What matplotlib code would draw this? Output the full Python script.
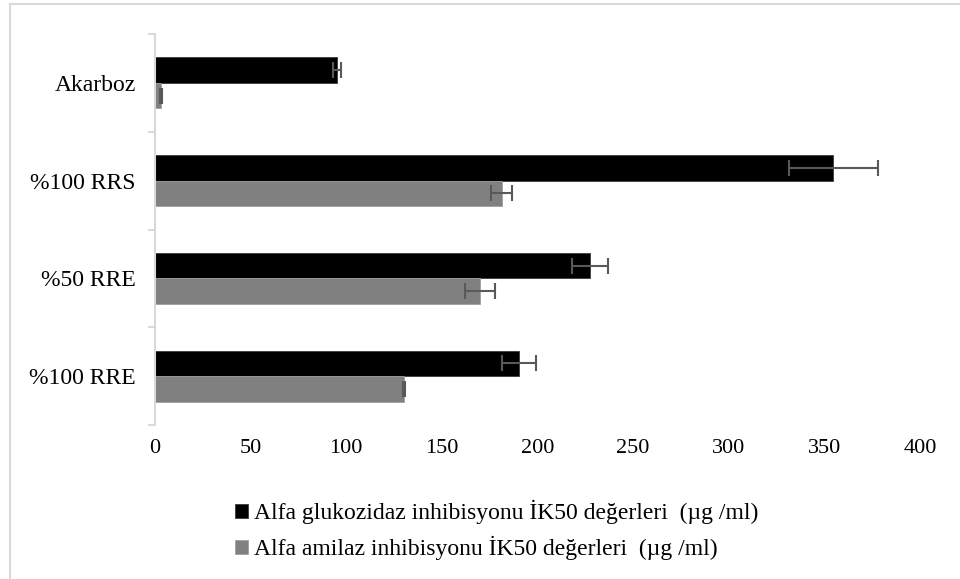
import numpy as np
import matplotlib.pyplot as plt
from matplotlib.patches import Rectangle

plt.rcParams['font.family'] = ['Liberation Serif', 'DejaVu Serif']

# categories listed bottom to top
categories = ['%100 RRE', '%50 RRE', '%100 RRS', 'Akarboz']
glukozidaz = [190.3, 227.4, 354.6, 95.3]
glukozidaz_err = [9.0, 9.3, 23.2, 2.0]
amilaz = [130.2, 169.9, 181.2, 3.0]
amilaz_err = [0.7, 7.7, 5.3, 0.6]
label_glu = 'Alfa glukozidaz inhibisyonu İK50 değerleri  (µg /ml)'
label_ami = 'Alfa amilaz inhibisyonu İK50 değerleri  (µg /ml)'

fig = plt.figure(figsize=(9.6, 5.79), dpi=100)
ax = fig.add_axes([155/960, 1 - 425/579, 765/960, 391/579])

y = np.arange(len(categories))
h = 0.26
err_kw = dict(ecolor='#595959', elinewidth=1.5, capsize=6, capthick=1.5)
ax.barh(y + h/2, glukozidaz, h, xerr=glukozidaz_err, color='black',
        edgecolor='#3a3a3a', linewidth=0.6, error_kw=err_kw, label=label_glu)
ax.barh(y - h/2, amilaz, h, xerr=amilaz_err, color='#808080',
        edgecolor='#a0a0a0', linewidth=0.6, error_kw=err_kw, label=label_ami)

ax.set_xlim(0, 400)
ax.set_ylim(-0.5, 3.5)
ax.set_xticks(np.arange(0, 401, 50))
ax.tick_params(axis='x', length=0, pad=10, labelsize=16)

ax.set_yticks(np.arange(-0.5, 4, 1))
ax.set_yticklabels([])
ax.tick_params(axis='y', which='major', length=5, width=1.5, color='#d9d9d9')
ax.set_yticks(y, minor=True)
ax.set_yticklabels(categories, minor=True)
ax.tick_params(axis='y', which='minor', length=0, pad=14, labelsize=17)

for s in ['top', 'right', 'bottom']:
    ax.spines[s].set_visible(False)
ax.spines['left'].set_color('#d9d9d9')
ax.spines['left'].set_linewidth(1.5)

leg = fig.legend(loc='center', bbox_to_anchor=(497/960, 1 - 530/579),
                 ncol=1, frameon=False, fontsize=17, handlelength=0.55,
                 handleheight=0.55, handletextpad=0.25, labelspacing=0.5)

fig.patches.append(Rectangle((9.5/960, -0.1), 2, 1.1 - 4.5/579,
                             transform=fig.transFigure, fill=False,
                             edgecolor='#d9d9d9', linewidth=1.5))

fig.savefig('out.png', dpi=100)
